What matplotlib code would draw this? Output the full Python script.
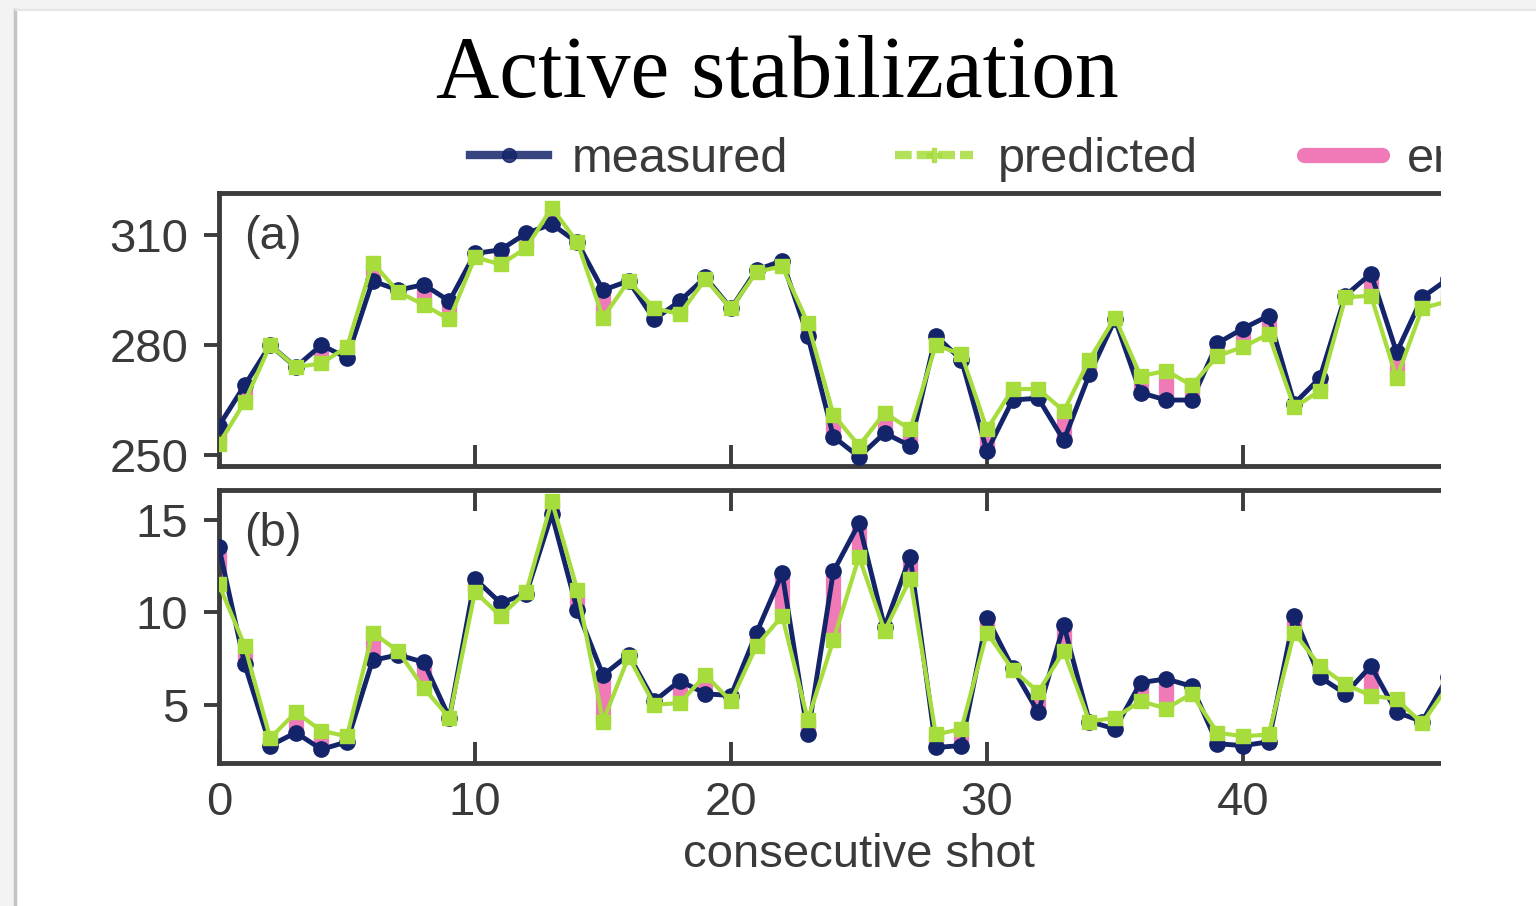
import matplotlib
matplotlib.use("Agg")
import matplotlib.pyplot as plt
from matplotlib.patches import Rectangle
from matplotlib.lines import Line2D
import numpy as np

shots = list(range(49))

# panel (a)
a_measured = [258, 269, 280, 274, 280, 276.5, 297.5, 295, 296.5, 292, 305, 306, 310.5, 313,
              308, 295, 297.5, 287, 292, 298.5, 290, 300.5, 303, 282.5, 255, 249.5, 256, 252.5,
              282.5, 276, 251, 265, 265.5, 254, 272, 287, 267, 265, 265, 280.5, 284.5, 288,
              264, 271, 293.5, 299.5, 278, 293, 298]
a_predicted = [253, 264.5, 280, 274, 275, 279.5, 302.5, 294.5, 291, 287, 304, 302, 306.5, 317.5,
               308, 287.5, 297.5, 290, 288.5, 298, 290, 300, 301.5, 286, 261, 252.5, 261.5, 257,
               280, 277.5, 257, 268, 268, 262, 276, 287.5, 271.5, 273, 269, 277, 279.5, 283,
               263, 267.5, 293, 293.5, 271, 290, 292]

# panel (b)
b_measured = [13.5, 7.2, 2.8, 3.5, 2.6, 3.0, 7.4, 7.7, 7.3, 4.3, 11.8, 10.5, 11.0, 15.3,
              10.1, 6.6, 7.7, 5.2, 6.3, 5.6, 5.5, 8.9, 12.1, 3.4, 12.2, 14.8, 9.2, 13.0,
              2.7, 2.8, 9.7, 7.0, 4.6, 9.3, 4.1, 3.7, 6.2, 6.4, 6.0, 2.9, 2.8, 3.0,
              9.8, 6.5, 5.6, 7.1, 4.6, 4.1, 6.5]
b_predicted = [11.5, 8.2, 3.2, 4.6, 3.6, 3.3, 8.9, 7.9, 5.9, 4.3, 11.1, 9.8, 11.1, 16.0,
               11.2, 4.1, 7.6, 5.0, 5.1, 6.6, 5.2, 8.2, 9.8, 4.2, 8.5, 13.0, 9.0, 11.8,
               3.4, 3.7, 8.9, 6.9, 5.7, 7.9, 4.1, 4.3, 5.2, 4.8, 5.6, 3.5, 3.3, 3.4,
               8.9, 7.1, 6.1, 5.5, 5.3, 4.0, 6.0]

a_yticks = [250, 280, 310]
b_yticks = [5, 10, 15]
x_ticks = [0, 10, 20, 30, 40]

title = "Active stabilization"
series_labels = ["measured", "predicted", "error"]
xlabel = "consecutive shot"

NAVY = "#14246a"
GREEN = "#a6dc3c"
PINK = "#f07ab8"
SPINE = "#3c3c3c"
TXT = "#3a3a3a"
SANS = ["Liberation Sans", "DejaVu Sans"]
FS = 34

W, H = 1536, 906
fig = plt.figure(figsize=(W / 100, H / 100), dpi=100, facecolor="#f3f3f3")

# slide card
fig.add_artist(Rectangle((16 / W, 0), 1 - 16 / W, 1 - 10 / H, transform=fig.transFigure,
                         facecolor="white", edgecolor="none", zorder=-5))
fig.add_artist(Line2D([15 / W, 15 / W], [0, 1 - 10 / H], transform=fig.transFigure,
                      color="#c4c4c4", lw=2.5, zorder=-4))
fig.add_artist(Line2D([16 / W, 1], [1 - 10 / H, 1 - 10 / H], transform=fig.transFigure,
                      color="#e6e6e6", lw=1.5, zorder=-4))

left = 219 / W
width = (25.6 * 50) / W
hgt = 273 / H
ax_a = fig.add_axes([left, 1 - 466 / H, width, hgt])
ax_b = fig.add_axes([left, 1 - 763 / H, width, hgt])


def draw(ax, meas, pred):
    ax.vlines(shots, np.minimum(meas, pred), np.maximum(meas, pred), colors=PINK,
              lw=11, zorder=2)
    ax.plot(shots, meas, color=NAVY, lw=3.5, marker="o", ms=11, zorder=3)
    ax.plot(shots, pred, color=GREEN, lw=3, marker="s", ms=10, zorder=4)
    ax.set_xlim(0, 50)
    for s in ax.spines.values():
        s.set_linewidth(3.5)
        s.set_color(SPINE)
    ax.tick_params(axis="y", direction="out", length=11, width=2.8, color=SPINE,
                   labelsize=FS, labelcolor=TXT, pad=11)
    ax.tick_params(axis="x", direction="in", length=15, width=2.8, color=SPINE,
                   labelsize=FS, labelcolor=TXT, pad=13)


draw(ax_a, a_measured, a_predicted)
ax_a.set_ylim(247, 321.5)
ax_a.set_yticks(a_yticks)
ax_a.set_xticks(x_ticks[1:])
ax_a.tick_params(axis="x", labelbottom=False)
ax_a.text(0.02, 0.84, "(a)", transform=ax_a.transAxes, fontsize=FS, color=TXT,
          family=SANS, va="center")

draw(ax_b, b_measured, b_predicted)
ax_b.set_ylim(1.86, 16.6)
ax_b.set_yticks(b_yticks)
ax_b.set_xticks(x_ticks)
ax_b.tick_params(axis="x", top=True)
ax_b.set_xlabel(xlabel, fontsize=FS, color=TXT, family=SANS, labelpad=6)
ax_b.text(0.02, 0.84, "(b)", transform=ax_b.transAxes, fontsize=FS, color=TXT,
          family=SANS, va="center")

for ax in (ax_a, ax_b):
    for lab in ax.get_xticklabels() + ax.get_yticklabels():
        lab.set_family(SANS)

handles = [
    Line2D([], [], color=NAVY, lw=6, marker="o", ms=10, alpha=0.85),
    Line2D([], [], color=GREEN, lw=6, marker="P", ms=10, ls=(0, (2, 0.6)), alpha=0.85),
    Line2D([], [], color=PINK, lw=11, solid_capstyle="round"),
]
fig.legend(handles, series_labels, loc="center left", bbox_to_anchor=(470 / W, 1 - 160 / H),
           ncol=3, frameon=False, prop={"family": SANS, "size": 35}, labelcolor=TXT,
           handlelength=1.6, handletextpad=0.5, columnspacing=2.2, borderpad=0,
           borderaxespad=0)

fig.text(777 / W, 1 - 75 / H, title, ha="center", va="center", fontsize=63,
         family=["Liberation Serif", "DejaVu Serif"], color="black")

# the source figure is cropped on the right
fig.add_artist(Rectangle((1441 / W, 120 / H), (W - 1441) / W, 660 / H,
                         transform=fig.transFigure, facecolor="white", edgecolor="none",
                         zorder=20))

fig.savefig("out.png", dpi=100, facecolor=fig.get_facecolor())
